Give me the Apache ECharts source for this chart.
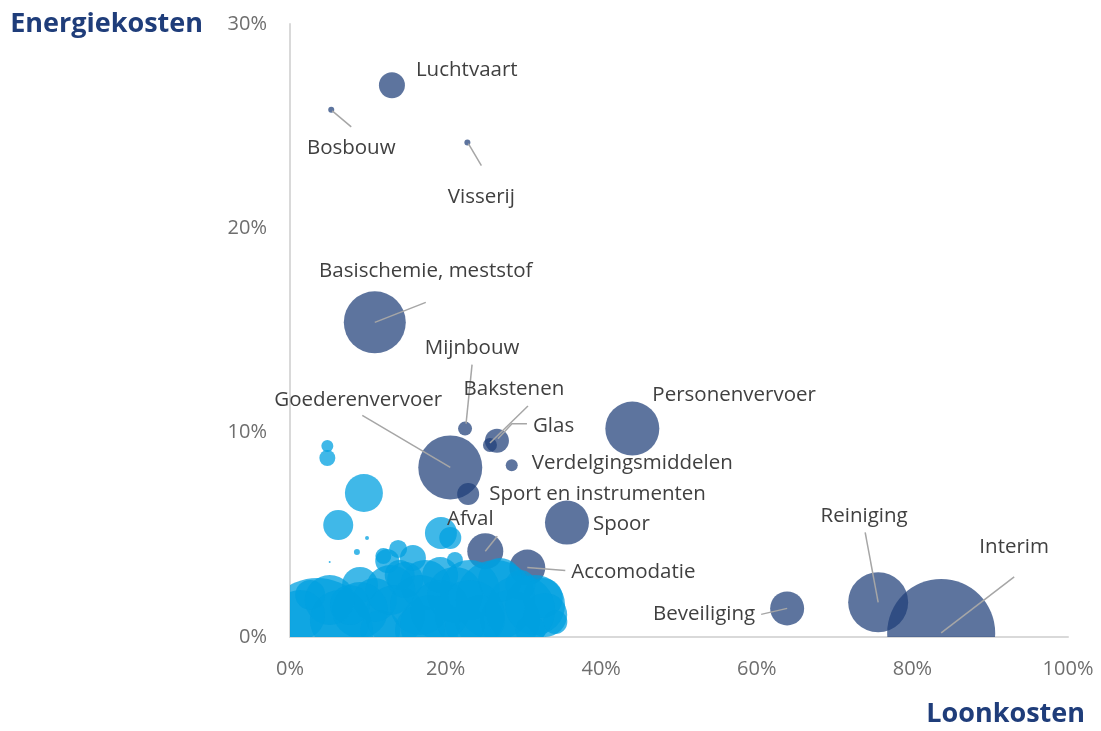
<!DOCTYPE html>
<html>
<head>
<meta charset="utf-8">
<title>Loonkosten vs energiekosten</title>
<script src="https://cdn.jsdelivr.net/npm/echarts@6/dist/echarts.min.js"></script>
<style>
html, body { margin: 0; padding: 0; background: #fff; }
#chart { width: 1101px; height: 731px; }
</style>
</head>
<body>
<div id="chart"></div>
<script>
// sectoren met label (donkerblauw): loonkosten %, energiekosten %, omvang
const sectors = ['Luchtvaart', 'Bosbouw', 'Visserij', 'Basischemie, meststof', 'Mijnbouw', 'Bakstenen', 'Glas',
    'Verdelgingsmiddelen', 'Goederenvervoer', 'Sport en instrumenten', 'Personenvervoer', 'Spoor', 'Afval',
    'Accomodatie', 'Beveiliging', 'Reiniging', 'Interim']
const sectorLoon = [13.1, 5.3, 22.8, 10.9, 22.5, 25.7, 26.6, 28.5, 20.6, 22.9, 44.0, 35.6, 25.1, 30.5, 63.9, 75.6, 83.7]
const sectorEnergie = [27.0, 25.8, 24.2, 15.4, 10.2, 9.4, 9.6, 8.4, 8.3, 7.0, 10.2, 5.6, 4.2, 3.4, 1.4, 1.7, 0.2]
const sectorSize = [169, 9, 9, 961, 49, 49, 144, 36, 1024, 121, 729, 484, 324, 324, 289, 900, 2916]

// overige sectoren (lichtblauw, zonder label)
const otherLoon = [4.8, 4.8, 9.5, 6.2, 9.9, 8.6, 5.1, 19.4, 20.6, 13.9, 12.0, 15.8, 12.5, 9.0, 3.5,
    1.3, 6.4, 10.9, 13.5, 17.4, 19.3, 23.1, 24.4, 26.4, 28.3, 31.5, 34.1, 29.6, 21.2, 14.8, 7.7, 2.6,
    22.5, 16.7, 11.6, 30.9,
    12.9, 16.7, 21.2, 27.0, 32.5, 9.0, 5.1, 23.1, 18.0, 29.6, 32.8, 14.1, 19.3]
const otherEnergie = [9.35, 8.76, 7.05, 5.48, 4.85, 4.16, 3.67, 5.09, 4.85, 4.31, 3.96, 3.87, 3.72, 2.55, 0.15,
    1.08, 0.83, 1.81, 1.08, 2.55, 1.32, 2.30, 0.83, 1.81, 0.83, 1.57, 0.73, 2.55, 3.77, 2.79, 1.57, 2.06,
    0.59, 0.34, 0.34, 0.34,
    2.30, 1.57, 2.06, 2.79, 1.91, 1.32, 1.81, 1.08, 0.59, 1.32, 1.08, 3.03, 3.03]
const otherSize = [36, 64, 361, 225, 4, 9, 1, 256, 121, 81, 64, 169, 144, 324, 3136,
    625, 900, 484, 900, 625, 900, 900, 625, 1600, 900, 900, 144, 225, 64, 324, 400, 225,
    400, 625, 400, 225,
    625, 900, 784, 484, 400, 784, 625, 1225, 900, 1225, 484, 225, 324]

// labelpositie t.o.v. het midden van de bubbel (px) en eventuele verbindingslijn
const labelCfg = {
    'Luchtvaart': { at: [24, -15], align: 'left' },
    'Bosbouw': { at: [20, 38], align: 'center', line: [[1, 1], [20, 17]] },
    'Visserij': { at: [14, 55], align: 'center', line: [[1, 1], [14, 23]] },
    'Basischemie, meststof': { at: [51, -51], align: 'center', line: [[0, 0], [51, -20]] },
    'Mijnbouw': { at: [7, -80], align: 'center', line: [[1, -5], [7, -64]] },
    'Bakstenen': { at: [24, -56], align: 'center', line: [[0, -2], [38, -39]] },
    'Glas': { at: [36, -15], align: 'left', line: [[1, -2], [15, -17], [30, -17]] },
    'Verdelgingsmiddelen': { at: [20, -2], align: 'left' },
    'Goederenvervoer': { at: [-92, -67], align: 'center', line: [[0, 0], [-88, -52]] },
    'Sport en instrumenten': { at: [21, 0], align: 'left' },
    'Personenvervoer': { at: [20, -33], align: 'left' },
    'Spoor': { at: [26, 2], align: 'left' },
    'Afval': { at: [-15, -32], align: 'center', line: [[0, 0], [12, -15]] },
    'Accomodatie': { at: [44, 5], align: 'left', line: [[0, 0], [38, 3]] },
    'Beveiliging': { at: [-32, 6], align: 'right', line: [[0, 0], [-26, 6]] },
    'Reiniging': { at: [-14, -86], align: 'center', line: [[0, 0], [-13, -70]] },
    'Interim': { at: [73, -86], align: 'center', line: [[0, 0], [73, -56]] }
}

const darkData = sectors.map((n, i) => ({ name: n, value: [sectorLoon[i], sectorEnergie[i], sectorSize[i]] }))
const lightData = otherLoon.map((v, i) => [v, otherEnergie[i], otherSize[i]])

function bubble(color) {
    return function (params, api) {
        let p = api.coord([api.value(0), api.value(1)])
        return {
            type: 'circle',
            shape: { cx: p[0], cy: p[1], r: Math.sqrt(api.value(2)) },
            style: { fill: color }
        }
    }
}

function labelItem(params, api) {
    let p = api.coord([api.value(0), api.value(1)])
    let cfg = labelCfg[sectors[params.dataIndex]]
    let children = []
    if (cfg.line) {
        children.push({
            type: 'polyline',
            shape: { points: cfg.line.map(o => [p[0] + o[0], p[1] + o[1]]) },
            style: { stroke: '#a6a6a6', lineWidth: 1.5, fill: null }
        })
    }
    children.push({
        type: 'text',
        x: p[0] + cfg.at[0],
        y: p[1] + cfg.at[1],
        style: {
            text: sectors[params.dataIndex],
            fill: '#404040',
            font: '20.5px "Open Sans", sans-serif',
            align: cfg.align,
            verticalAlign: 'middle',
            textAlign: cfg.align,
            textVerticalAlign: 'middle'
        }
    })
    return { type: 'group', children: children }
}

let chart = echarts.init(document.getElementById('chart'))
let option = {
    animation: false,
    grid: { left: 290, right: 33, top: 24, bottom: 94 },
    xAxis: {
        type: 'value',
        min: 0,
        max: 100,
        interval: 20,
        name: 'Loonkosten',
        nameLocation: 'end',
        nameGap: 17,
        nameTextStyle: {
            color: '#1f3d7a',
            fontFamily: 'Open Sans',
            fontWeight: 'bold',
            fontSize: 27,
            align: 'right',
            verticalAlign: 'top',
            padding: [64, 0, 0, 0]
        },
        axisLine: { lineStyle: { color: '#d9d9d9', width: 2 } },
        axisTick: { show: false },
        splitLine: { show: false },
        axisLabel: {
            formatter: '{value}%',
            color: '#6e6e6e',
            fontFamily: 'Open Sans',
            fontSize: 20,
            margin: 22
        }
    },
    yAxis: {
        type: 'value',
        min: 0,
        max: 30,
        interval: 10,
        name: 'Energiekosten',
        nameLocation: 'end',
        nameGap: 0,
        nameTextStyle: {
            color: '#1f3d7a',
            fontFamily: 'Open Sans',
            fontWeight: 'bold',
            fontSize: 27,
            align: 'right',
            verticalAlign: 'middle',
            padding: [0, 87, 0, 0]
        },
        axisLine: { show: true, lineStyle: { color: '#d9d9d9', width: 2 } },
        axisTick: { show: false },
        splitLine: { show: false },
        axisLabel: {
            formatter: '{value}%',
            color: '#6e6e6e',
            fontFamily: 'Open Sans',
            fontSize: 20,
            margin: 23
        }
    },
    series: [
        {
            name: 'Sectoren',
            type: 'custom',
            clip: true,
            renderItem: bubble('rgba(31, 62, 120, 0.72)'),
            encode: { x: 0, y: 1 },
            data: darkData
        },
        {
            name: 'Overig',
            type: 'custom',
            clip: true,
            renderItem: bubble('rgba(0, 160, 224, 0.75)'),
            encode: { x: 0, y: 1 },
            data: lightData
        },
        {
            name: 'Labels',
            type: 'custom',
            renderItem: labelItem,
            encode: { x: 0, y: 1 },
            data: darkData,
            z: 5
        }
    ]
}
chart.setOption(option)
window.addEventListener('resize', () => {
    chart.resize()
})
</script>
</body>
</html>
